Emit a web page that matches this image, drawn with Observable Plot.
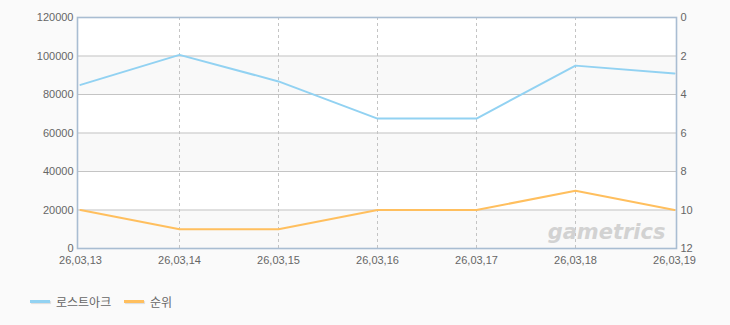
<!DOCTYPE html>
<html>
<head>
<meta charset="utf-8">
<script src="https://cdn.jsdelivr.net/npm/d3@7"></script>
<script src="https://cdn.jsdelivr.net/npm/@observablehq/plot@0.6"></script>
<style>
  html, body { margin: 0; padding: 0; background: #fafafa; }
  body { width: 730px; height: 325px; overflow: hidden; font-family: "Liberation Sans", "Noto Sans CJK KR", sans-serif; }
  #chart svg { display: block; background: transparent; }
  .legend { position: relative; height: 50px; font-size: 12px; color: #666; }
  .item { position: absolute; top: 18px; display: flex; align-items: center; }
  .sw { width: 20px; height: 3px; margin-right: 6px; box-shadow: 1px 1px 1px rgba(0,0,0,0.12); }
</style>
</head>
<body>
<div id="chart"></div>
<div class="legend" id="legend"></div>
<script>
const dates = ["26,03,13", "26,03,14", "26,03,15", "26,03,16", "26,03,17", "26,03,18", "26,03,19"];
const players = [85000, 100600, 86800, 67500, 67500, 95000, 90900];
const ranks = [10, 11, 11, 10, 10, 9, 10];
const leftTicks = [0, 20000, 40000, 60000, 80000, 100000, 120000];
const rightTicks = [0, 2, 4, 6, 8, 10, 12];
const seriesNames = ["로스트아크", "순위"];
const seriesColors = ["#92d2f2", "#ffbf5e"];

const leftMax = 120000, rankMax = 12;
const rankToLeft = r => (rankMax - r) * leftMax / rankMax;

const playerData = dates.map((d, i) => ({date: d, value: players[i]}));
const rankData = dates.map((d, i) => ({date: d, value: rankToLeft(ranks[i])}));
const bands = leftTicks.slice(0, -1).map((t, i) => ({y1: t, y2: leftTicks[i + 1], shaded: i % 2 === 0}));

const chart = Plot.plot({
  width: 730,
  height: 275,
  marginLeft: 77,
  marginRight: 54,
  marginTop: 17,
  marginBottom: 27,
  style: {fontFamily: "Liberation Sans, Noto Sans CJK KR, sans-serif", fontSize: "11px", color: "#666", background: "transparent"},
  x: {type: "point", domain: dates, padding: 0},
  y: {domain: [0, leftMax]},
  marks: [
    Plot.frame({fill: "white", stroke: null}),
    Plot.rect(bands.filter(b => b.shaded), {y1: "y1", y2: "y2", fill: "#f9f9f9"}),
    Plot.gridY(leftTicks.slice(1, -1), {stroke: "#c4c4c4", strokeOpacity: 1}),
    Plot.gridX(dates.slice(1, -1), {stroke: "#c4c4c4", strokeOpacity: 1, strokeDasharray: "3,3"}),
    Plot.line(playerData, {x: "date", y: "value", stroke: seriesColors[0], strokeWidth: 2}),
    Plot.line(rankData, {x: "date", y: "value", stroke: seriesColors[1], strokeWidth: 2}),
    Plot.text(["gametrics"], {frameAnchor: "bottom-right", dx: -11, dy: -10, fontSize: 21, fontStyle: "italic", fontWeight: "bold", fill: "#d2d2d2", fontFamily: "DejaVu Sans", textAnchor: "end"}),
    Plot.frame({stroke: "#a9bdd2", strokeWidth: 1.6}),
    Plot.axisY(leftTicks, {anchor: "left", tickSize: 0, tickPadding: 4, tickFormat: d3.format("d"), label: null, fill: "#666"}),
    Plot.axisY(rightTicks.map(rankToLeft), {anchor: "right", tickSize: 0, tickPadding: 4, tickFormat: v => String(Math.round(rankMax - v * rankMax / leftMax)), label: null, fill: "#666"}),
    Plot.axisX(dates, {tickSize: 0, tickPadding: 8, label: null, fill: "#666"})
  ]
});
document.getElementById("chart").appendChild(chart);

const legend = document.getElementById("legend");
const lefts = [30, 124];
seriesNames.forEach((name, i) => {
  const item = document.createElement("div");
  item.className = "item";
  item.style.left = lefts[i] + "px";
  const sw = document.createElement("span");
  sw.className = "sw";
  sw.style.background = seriesColors[i];
  const tx = document.createElement("span");
  tx.textContent = name;
  item.appendChild(sw);
  item.appendChild(tx);
  legend.appendChild(item);
});
</script>
</body>
</html>
